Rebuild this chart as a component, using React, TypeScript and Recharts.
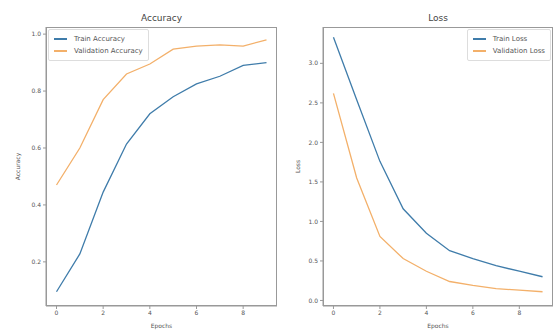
import React from "react";
import { LineChart, Line, XAxis, YAxis } from "recharts";

const epochs = [0, 1, 2, 3, 4, 5, 6, 7, 8, 9];
const trainAccuracy = [0.095, 0.228, 0.445, 0.614, 0.72, 0.78, 0.825, 0.852, 0.89, 0.9];
const valAccuracy = [0.47, 0.6, 0.77, 0.86, 0.895, 0.947, 0.958, 0.962, 0.958, 0.98];
const trainLoss = [3.33, 2.54, 1.76, 1.16, 0.85, 0.63, 0.53, 0.44, 0.37, 0.3];
const valLoss = [2.62, 1.55, 0.81, 0.53, 0.37, 0.24, 0.19, 0.15, 0.13, 0.11];

const epochTicks = [0, 2, 4, 6, 8];
const accTicks = [0.2, 0.4, 0.6, 0.8, 1.0];
const lossTicks = [0, 0.5, 1.0, 1.5, 2.0, 2.5, 3.0];

const BLUE = "#3f7caa";
const ORANGE = "#f3b06a";
const INK = "#555";
const FRAME = "#999";

const accData = epochs.map((e, i) => ({ epoch: e, train: trainAccuracy[i], val: valAccuracy[i] }));
const lossData = epochs.map((e, i) => ({ epoch: e, train: trainLoss[i], val: valLoss[i] }));

const tickStyle = { fontSize: 6, fill: INK };
const TOP = 27;
const XH = 25;

function BoxLegend({ labels, style }: { labels: string[]; style: React.CSSProperties }) {
  const colors = [BLUE, ORANGE];
  return (
    <div
      style={{
        position: "absolute",
        border: "1px solid #ddd",
        borderRadius: 2,
        background: "rgba(255,255,255,0.8)",
        padding: "3px 5px",
        fontSize: 7,
        color: INK,
        lineHeight: "12px",
        ...style,
      }}
    >
      {labels.map((l, i) => (
        <div key={l} style={{ display: "flex", alignItems: "center" }}>
          <span style={{ display: "inline-block", width: 13, height: 1.3, background: colors[i], marginRight: 7 }} />
          {l}
        </div>
      ))}
    </div>
  );
}

function Panel({
  data,
  title,
  yLabel,
  yDomain,
  yTicks,
  legend,
  legendPos,
  width,
  yWidth,
  marginRight,
}: {
  data: { epoch: number; train: number; val: number }[];
  title: string;
  yLabel: string;
  yDomain: [number, number];
  yTicks: number[];
  legend: string[];
  legendPos: React.CSSProperties;
  width: number;
  yWidth: number;
  marginRight: number;
}) {
  return (
    <div style={{ position: "relative", width, height: 331 }}>
      <div
        style={{
          position: "absolute",
          top: 13,
          left: yWidth,
          right: marginRight,
          textAlign: "center",
          fontSize: 9,
          color: "#444",
        }}
      >
        {title}
      </div>
      <LineChart width={width} height={331} data={data} margin={{ top: TOP, right: marginRight, bottom: 0, left: 0 }}>
        <XAxis
          dataKey="epoch"
          type="number"
          domain={[-0.45, 9.45]}
          ticks={epochTicks}
          height={XH}
          tick={tickStyle}
          tickSize={3}
          stroke={FRAME}
          label={{ value: "Epochs", position: "insideBottom", offset: 3, fontSize: 6, fill: INK }}
        />
        <YAxis
          type="number"
          domain={yDomain}
          ticks={yTicks}
          width={yWidth}
          tick={tickStyle}
          tickSize={3}
          tickFormatter={(v: number) => v.toFixed(1)}
          stroke={FRAME}
          label={{ value: yLabel, angle: -90, position: "insideLeft", offset: 18, fontSize: 6, fill: INK, style: { textAnchor: "middle" } }}
        />
        <Line dataKey="train" stroke={BLUE} strokeWidth={1.3} dot={false} isAnimationActive={false} />
        <Line dataKey="val" stroke={ORANGE} strokeWidth={1.3} dot={false} isAnimationActive={false} />
      </LineChart>
      <div
        style={{
          position: "absolute",
          left: yWidth,
          top: TOP,
          width: width - yWidth - marginRight,
          height: 331 - TOP - XH,
          border: `1px solid ${FRAME}`,
          boxSizing: "border-box",
          pointerEvents: "none",
        }}
      />
      <BoxLegend labels={legend} style={legendPos} />
    </div>
  );
}

export default function App() {
  return (
    <div style={{ position: "absolute", left: 0, top: 0, width: 555, height: 331, background: "#fff", display: "flex", fontFamily: "DejaVu Sans" }}>
      <Panel
        data={accData}
        title="Accuracy"
        yLabel="Accuracy"
        yDomain={[0.045, 1.025]}
        yTicks={accTicks}
        legend={["Train Accuracy", "Validation Accuracy"]}
        legendPos={{ top: 29, left: 48 }}
        width={280}
        yWidth={46}
        marginRight={3}
      />
      <Panel
        data={lossData}
        title="Loss"
        yLabel="Loss"
        yDomain={[-0.07, 3.46]}
        yTicks={lossTicks}
        legend={["Train Loss", "Validation Loss"]}
        legendPos={{ top: 29, right: 4 }}
        width={275}
        yWidth={43}
        marginRight={2}
      />
    </div>
  );
}
